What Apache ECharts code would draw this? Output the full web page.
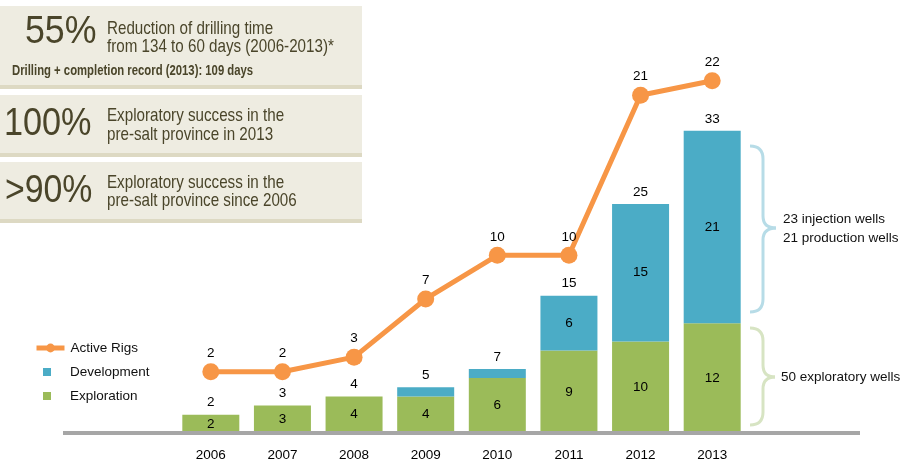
<!DOCTYPE html>
<html>
<head>
<meta charset="utf-8">
<script src="https://cdn.jsdelivr.net/npm/echarts@6/dist/echarts.min.js"></script>
<style>
html,body{margin:0;padding:0;background:#fff;}
#c{width:911px;height:470px;}
</style>
</head>
<body>
<div id="c"></div>
<script>
const years = ['2006','2007','2008','2009','2010','2011','2012','2013'];
const exploration = [2,3,4,4,6,9,10,12];
const development = [0,0,0,1,1,6,15,21];
const totalWells = [2,3,4,5,7,15,25,33];
const activeRigs = [2,2,3,7,10,10,21,22];

const SANS = '"Liberation Sans",Arial,sans-serif';
const BOXTXT = '#4a452a';

function txt(text, x, y, size, opts) {
  opts = opts || {};
  return {
    type: 'text', z: 20, x: x, y: y,
    scaleX: opts.scaleX == null ? 0.82 : opts.scaleX,
    style: {
      text: text, x: 0, y: 0,
      font: (opts.weight || 'normal') + ' ' + size + 'px ' + SANS,
      fill: opts.fill || BOXTXT,
      textAlign: 'left', align: 'left',
      textVerticalAlign: 'middle', verticalAlign: 'middle'
    }
  };
}
function brace(x0, xv, xt, yTop, yMid, yBot, color) {
  const r = 13;
  const st = { stroke: color, lineWidth: 3, fill: null };
  return [
    { type: 'bezierCurve', z: 5, shape: { x1: x0, y1: yTop, cpx1: xv, cpy1: yTop, x2: xv, y2: yTop + r }, style: st },
    { type: 'line', z: 5, shape: { x1: xv, y1: yTop + r, x2: xv, y2: yMid - 12 }, style: st },
    { type: 'bezierCurve', z: 5, shape: { x1: xv, y1: yMid - 12, cpx1: xv, cpy1: yMid, x2: xt, y2: yMid }, style: st },
    { type: 'bezierCurve', z: 5, shape: { x1: xt, y1: yMid, cpx1: xv, cpy1: yMid, x2: xv, y2: yMid + 12 }, style: st },
    { type: 'line', z: 5, shape: { x1: xv, y1: yMid + 12, x2: xv, y2: yBot - r }, style: st },
    { type: 'bezierCurve', z: 5, shape: { x1: xv, y1: yBot - r, cpx1: xv, cpy1: yBot, x2: x0, y2: yBot }, style: st }
  ];
}

const graphics = [
  // info boxes
  { type: 'rect', z: 1, shape: { x: 0, y: 6, width: 362, height: 79 }, style: { fill: '#eeece1' } },
  { type: 'rect', z: 1, shape: { x: 0, y: 85, width: 362, height: 4 }, style: { fill: '#ddd9c3' } },
  { type: 'rect', z: 1, shape: { x: 0, y: 95, width: 362, height: 58 }, style: { fill: '#eeece1' } },
  { type: 'rect', z: 1, shape: { x: 0, y: 153, width: 362, height: 4 }, style: { fill: '#ddd9c3' } },
  { type: 'rect', z: 1, shape: { x: 0, y: 162, width: 362, height: 57 }, style: { fill: '#eeece1' } },
  { type: 'rect', z: 1, shape: { x: 0, y: 219, width: 362, height: 4 }, style: { fill: '#ddd9c3' } },
  txt('55%', 25, 33, 38, { scaleX: 0.94 }),
  txt('Reduction of drilling time', 107, 29, 18.5),
  txt('from 134 to 60 days (2006-2013)*', 107, 47, 18.5),
  txt('Drilling + completion record (2013): 109 days', 12, 71, 13.8, { weight: 'bold' }),
  txt('100%', 4, 125, 38, { scaleX: 0.9 }),
  txt('Exploratory success in the', 107, 116, 18.5),
  txt('pre-salt province in 2013', 107, 135, 18.5),
  txt('>90%', 5, 192, 38, { scaleX: 0.89 }),
  txt('Exploratory success in the', 107, 183, 18.5),
  txt('pre-salt province since 2006', 107, 201, 18.5),
  // base axis line
  { type: 'rect', z: 10, shape: { x: 63, y: 431, width: 797, height: 4 }, style: { fill: '#a6a6a6' } },
  // brace annotations
  txt('23 injection wells', 783, 219, 13.5, { fill: '#111', scaleX: 1 }),
  txt('21 production wells', 783, 238, 13.5, { fill: '#111', scaleX: 1 }),
  txt('50 exploratory wells', 781, 377, 13.5, { fill: '#111', scaleX: 1 })
].concat(brace(750, 763, 776, 146, 228, 312, '#b7dce7'))
 .concat(brace(750, 763, 775, 328, 377, 425, '#d7e4c3'));

const labelFont = { fontFamily: SANS, fontSize: 13.5, color: '#000' };
const legendText = { fontFamily: SANS, fontSize: 13.5, color: '#111' };

const option = {
  animation: false,
  backgroundColor: '#fff',
  grid: { left: 175, right: 163, top: 50, bottom: 37, containLabel: false },
  legend: [
    { data: ['Active Rigs'], orient: 'vertical', left: 34, top: 341, padding: 0, itemWidth: 28, itemHeight: 11,
      lineStyle: { width: 5, color: '#f79646' }, itemStyle: { color: '#f79646' },
      textStyle: Object.assign({ padding: [0, 0, 0, 1] }, legendText), selectedMode: false },
    { data: [{ name: 'Development', icon: 'rect' }], orient: 'vertical', left: 43, top: 365, padding: 0, itemWidth: 8, itemHeight: 8,
      textStyle: Object.assign({ padding: [0, 0, 0, 14] }, legendText), selectedMode: false },
    { data: [{ name: 'Exploration', icon: 'rect' }], orient: 'vertical', left: 43, top: 389, padding: 0, itemWidth: 8, itemHeight: 8,
      textStyle: Object.assign({ padding: [0, 0, 0, 14] }, legendText), selectedMode: false }
  ],
  xAxis: {
    type: 'category', data: years, boundaryGap: true,
    axisLine: { show: false }, axisTick: { show: false },
    axisLabel: { margin: 15, fontFamily: SANS, fontSize: 13.5, color: '#000' }
  },
  yAxis: [
    { type: 'value', min: 0, max: 41.83, show: false, splitLine: { show: false } },
    { type: 'value', min: -2.213, max: 24.11, show: false, splitLine: { show: false } }
  ],
  graphic: { elements: graphics },
  series: [
    { name: 'Total', type: 'bar', yAxisIndex: 0, data: totalWells, barWidth: 57, barGap: '-100%',
      itemStyle: { color: 'rgba(0,0,0,0)' }, z: 1,
      label: Object.assign({ show: true, position: 'top', distance: 5 }, labelFont) },
    { name: 'Exploration', type: 'bar', stack: 'wells', yAxisIndex: 0, data: exploration, barWidth: 57, barGap: '-100%',
      itemStyle: { color: '#9bbb59' }, z: 2,
      label: Object.assign({ show: true, position: 'inside' }, labelFont) },
    { name: 'Development', type: 'bar', stack: 'wells', yAxisIndex: 0, data: development, barWidth: 57, barGap: '-100%',
      itemStyle: { color: '#4bacc6' }, z: 2,
      label: Object.assign({ show: true, position: 'inside', formatter: p => (p.value >= 3 ? p.value : '') }, labelFont) },
    { name: 'Active Rigs', type: 'line', yAxisIndex: 1, data: activeRigs, z: 12,
      symbol: 'circle', symbolSize: 17, lineStyle: { color: '#f79646', width: 5 },
      itemStyle: { color: '#f79646' },
      label: Object.assign({ show: true, position: 'top', distance: 3 }, labelFont) }
  ]
};

const chart = echarts.init(document.getElementById('c'), null, { renderer: 'canvas' });
chart.setOption(option);
</script>
</body>
</html>
